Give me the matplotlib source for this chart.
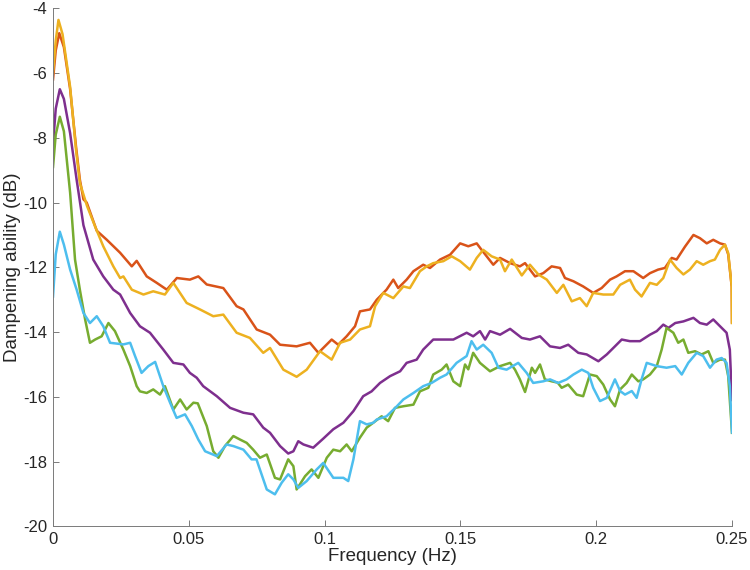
import matplotlib
matplotlib.use("Agg")
import matplotlib.pyplot as plt

plt.rcParams['font.family'] = ['Liberation Sans', 'DejaVu Sans']
plt.rcParams['axes.unicode_minus'] = False

# --- data (frequency in Hz, dampening in dB) ---
red_f = [0.0, 0.001, 0.0023, 0.004, 0.0063, 0.0085, 0.0099, 0.0112, 0.0124, 0.0161,
         0.0198, 0.0247, 0.029, 0.0308, 0.0345, 0.0382, 0.0419, 0.0456, 0.0504, 0.0535,
         0.0566, 0.0627, 0.0676, 0.0701, 0.075, 0.0799, 0.0836, 0.0897, 0.0946, 0.0977,
         0.0995, 0.1026, 0.105, 0.1081, 0.1112, 0.113, 0.1167, 0.1192, 0.1228, 0.1253,
         0.1271, 0.1302, 0.1327, 0.1363, 0.1388, 0.1425, 0.1462, 0.1499, 0.1529, 0.156,
         0.1578, 0.1621, 0.1646, 0.1683, 0.1719, 0.1738, 0.1775, 0.1805, 0.1836, 0.1867,
         0.1885, 0.1916, 0.1952, 0.1989, 0.202, 0.2051, 0.2075, 0.2106, 0.2137, 0.2173,
         0.2198, 0.2228, 0.2253, 0.2278, 0.2296, 0.2327, 0.2358, 0.2382, 0.2407, 0.2431,
         0.2456, 0.2474, 0.2486, 0.2499, 0.25]
red_db = [-6.2, -5.3, -4.77, -5.2, -6.5, -8.3, -9.3, -9.9, -10.0, -10.87,
          -11.15, -11.55, -11.97, -11.8, -12.28, -12.48, -12.69, -12.33, -12.38, -12.28,
          -12.53, -12.64, -13.2, -13.3, -13.92, -14.08, -14.39, -14.44, -14.33, -14.64,
          -14.49, -14.23, -14.39, -14.13, -13.82, -13.36, -13.3, -13.0, -12.69, -12.38,
          -12.64, -12.38, -12.12, -11.92, -12.02, -11.76, -11.61, -11.26, -11.35, -11.26,
          -11.46, -11.92, -11.71, -11.87, -11.97, -11.87, -12.28, -12.18, -11.97, -12.02,
          -12.33, -12.43, -12.59, -12.79, -12.64, -12.38, -12.28, -12.12, -12.12, -12.33,
          -12.18, -12.07, -12.02, -11.71, -11.76, -11.36, -11.0, -11.1, -11.26, -11.15,
          -11.26, -11.3, -11.6, -12.6, -13.7]

yellow_f = [0.0, 0.001, 0.002, 0.0035, 0.0063, 0.0085, 0.0099, 0.0125, 0.0155, 0.0185,
            0.0222, 0.0247, 0.0259, 0.029, 0.0333, 0.0369, 0.0412, 0.0443, 0.0492, 0.0541,
            0.059, 0.0627, 0.0676, 0.0725, 0.0774, 0.0799, 0.0848, 0.0897, 0.0934, 0.0983,
            0.1026, 0.1057, 0.1094, 0.113, 0.1167, 0.1186, 0.1216, 0.1253, 0.129, 0.1314,
            0.1351, 0.1376, 0.14, 0.1437, 0.1468, 0.1499, 0.1535, 0.156, 0.1584, 0.1615,
            0.1646, 0.1664, 0.1689, 0.1726, 0.1756, 0.1787, 0.1818, 0.1855, 0.1879, 0.191,
            0.194, 0.1965, 0.1989, 0.2026, 0.2063, 0.2088, 0.2124, 0.2143, 0.2167, 0.2198,
            0.2223, 0.2247, 0.2272, 0.2296, 0.2321, 0.2345, 0.237, 0.2394, 0.2419, 0.2437,
            0.2456, 0.2474, 0.2486, 0.2499, 0.25]
yellow_db = [-6.0, -5.0, -4.36, -4.8, -6.43, -8.4, -9.4, -10.1, -10.74, -11.35,
             -11.97, -12.33, -12.28, -12.69, -12.84, -12.74, -12.84, -12.48, -13.1, -13.3,
             -13.51, -13.46, -14.02, -14.18, -14.64, -14.49, -15.16, -15.38, -15.16, -14.59,
             -14.85, -14.33, -14.23, -13.92, -13.82, -13.2, -12.79, -12.95, -12.59, -12.64,
             -12.12, -11.97, -11.87, -11.81, -11.66, -11.81, -12.07, -11.71, -11.46, -11.66,
             -11.76, -12.12, -11.76, -12.25, -11.92, -12.22, -12.38, -12.79, -12.54, -13.05,
             -12.95, -13.2, -12.79, -12.84, -12.84, -12.54, -12.38, -12.69, -12.9, -12.48,
             -12.54, -12.33, -11.76, -12.02, -12.22, -12.07, -11.81, -11.92, -11.81, -11.76,
             -11.46, -11.3, -11.56, -12.59, -13.72]

purple_f = [0.0, 0.001, 0.0025, 0.004, 0.0063, 0.0087, 0.0112, 0.0148, 0.0185, 0.0222,
            0.0247, 0.0284, 0.032, 0.0357, 0.0406, 0.0443, 0.048, 0.0504, 0.0529, 0.0553,
            0.0603, 0.0652, 0.0701, 0.0737, 0.0774, 0.0799, 0.0836, 0.0866, 0.0885, 0.0903,
            0.0922, 0.0958, 0.0995, 0.1032, 0.1069, 0.1106, 0.1142, 0.1173, 0.1204, 0.1241,
            0.1278, 0.1302, 0.1339, 0.1363, 0.14, 0.1437, 0.1474, 0.1523, 0.1547, 0.1572,
            0.1591, 0.1609, 0.1646, 0.1683, 0.1726, 0.1756, 0.1793, 0.183, 0.1867, 0.1897,
            0.1934, 0.1965, 0.2008, 0.2039, 0.2069, 0.2094, 0.2124, 0.2161, 0.2198, 0.2223,
            0.2247, 0.2266, 0.2291, 0.2321, 0.2358, 0.2382, 0.2407, 0.2431, 0.2456, 0.248,
            0.2492, 0.25]
purple_db = [-8.2, -7.1, -6.5, -6.8, -7.86, -9.3, -10.7, -11.76, -12.28, -12.69,
             -12.84, -13.41, -13.82, -14.02, -14.54, -14.95, -15.0, -15.26, -15.41, -15.67,
             -15.98, -16.34, -16.49, -16.54, -16.95, -17.11, -17.52, -17.75, -17.68, -17.37,
             -17.47, -17.57, -17.29, -17.0, -16.8, -16.44, -15.98, -15.83, -15.57, -15.36,
             -15.21, -14.95, -14.85, -14.54, -14.23, -14.23, -14.23, -14.02, -14.13, -13.97,
             -14.23, -13.97, -14.08, -13.9, -14.18, -14.23, -14.13, -14.44, -14.49, -14.39,
             -14.64, -14.69, -14.9, -14.69, -14.44, -14.23, -14.28, -14.28, -14.08, -13.97,
             -13.77, -13.87, -13.72, -13.67, -13.56, -13.72, -13.77, -13.61, -13.82, -14.02,
             -14.54, -16.1]

green_f = [0.0, 0.001, 0.0025, 0.004, 0.0063, 0.0081, 0.0099, 0.0118, 0.0136, 0.0155,
           0.0179, 0.0204, 0.0228, 0.0259, 0.0284, 0.0308, 0.032, 0.0345, 0.0369, 0.0394,
           0.0412, 0.0443, 0.0468, 0.0492, 0.0517, 0.0533, 0.0566, 0.059, 0.0609, 0.0633,
           0.0664, 0.0689, 0.0713, 0.0737, 0.0762, 0.0787, 0.0817, 0.0836, 0.0866, 0.0885,
           0.0897, 0.0928, 0.0952, 0.0977, 0.1008, 0.1032, 0.1057, 0.1081, 0.11, 0.113,
           0.1155, 0.1179, 0.121, 0.1234, 0.1259, 0.129, 0.1327, 0.1351, 0.1382, 0.14,
           0.1431, 0.1449, 0.1474, 0.1499, 0.1517, 0.1529, 0.1547, 0.1572, 0.1609, 0.1646,
           0.1683, 0.1701, 0.1719, 0.1738, 0.1763, 0.1775, 0.1793, 0.1811, 0.1836, 0.1858,
           0.1873, 0.1897, 0.1928, 0.1952, 0.1977, 0.2002, 0.2026, 0.2051, 0.2069, 0.2088,
           0.2112, 0.2131, 0.2155, 0.2173, 0.2198, 0.2223, 0.2241, 0.2259, 0.2284, 0.2302,
           0.2321, 0.2339, 0.2364, 0.2388, 0.2413, 0.2431, 0.2456, 0.2474, 0.2486, 0.25]
green_db = [-8.9, -7.9, -7.35, -7.8, -9.7, -11.76, -12.7, -13.6, -14.33, -14.23,
            -14.13, -13.72, -13.97, -14.54, -15.05, -15.67, -15.83, -15.88, -15.77, -15.93,
            -15.67, -16.39, -16.08, -16.39, -16.18, -16.2, -16.9, -17.68, -17.88, -17.52,
            -17.21, -17.32, -17.42, -17.63, -17.88, -17.78, -18.5, -18.55, -17.93, -18.14,
            -18.86, -18.45, -18.24, -18.5, -17.88, -17.63, -17.68, -17.47, -17.68, -17.26,
            -16.95, -16.8, -16.6, -16.75, -16.34, -16.29, -16.24, -15.83, -15.72, -15.31,
            -15.16, -15.0, -15.52, -15.67, -15.0, -15.15, -14.64, -14.95, -15.21, -15.05,
            -14.95, -15.16, -15.46, -15.85, -15.1, -15.26, -15.0, -15.46, -15.52, -15.56,
            -15.72, -15.62, -15.93, -15.98, -15.31, -15.36, -15.62, -16.08, -16.29, -15.77,
            -15.57, -15.31, -15.52, -15.46, -15.31, -15.05, -14.54, -13.87, -14.02, -14.33,
            -14.23, -14.64, -14.59, -14.69, -14.59, -14.95, -14.85, -14.85, -15.36, -17.11]

blue_f = [0.0, 0.001, 0.0025, 0.004, 0.0063, 0.0087, 0.0112, 0.0136, 0.0161, 0.0185,
          0.021, 0.0259, 0.0284, 0.0302, 0.0326, 0.0351, 0.0376, 0.0406, 0.0431, 0.0455,
          0.0486, 0.0511, 0.0535, 0.056, 0.0603, 0.0639, 0.0664, 0.0701, 0.0731, 0.0749,
          0.0787, 0.0817, 0.0842, 0.0866, 0.0885, 0.0903, 0.0934, 0.0971, 0.0995, 0.1032,
          0.1069, 0.1087, 0.1106, 0.113, 0.1155, 0.1179, 0.1192, 0.1228, 0.1265, 0.129,
          0.1327, 0.1363, 0.1394, 0.1425, 0.1449, 0.1486, 0.1523, 0.1541, 0.156, 0.1584,
          0.1615, 0.164, 0.167, 0.1713, 0.1744, 0.1768, 0.1805, 0.183, 0.186, 0.1891,
          0.1916, 0.1947, 0.1971, 0.1989, 0.2014, 0.2039, 0.2069, 0.2088, 0.2106, 0.2131,
          0.2149, 0.2167, 0.2186, 0.2223, 0.2259, 0.2291, 0.2315, 0.2339, 0.237, 0.2394,
          0.2419, 0.2443, 0.2462, 0.248, 0.2492, 0.25]
blue_db = [-12.9, -11.6, -10.9, -11.3, -12.07, -12.69, -13.41, -13.72, -13.51, -13.82,
           -14.33, -14.38, -14.33, -14.74, -15.26, -15.05, -14.92, -15.67, -16.18, -16.65,
           -16.54, -16.9, -17.32, -17.68, -17.83, -17.47, -17.52, -17.63, -17.93, -17.93,
           -18.86, -19.01, -18.65, -18.39, -18.55, -18.81, -18.6, -18.24, -18.04, -18.5,
           -18.5, -18.6, -17.93, -16.75, -16.85, -16.8, -16.7, -16.6, -16.3, -16.08,
           -15.88, -15.67, -15.57, -15.41, -15.31, -14.95, -14.74, -14.28, -14.54, -14.39,
           -14.64, -15.1, -15.16, -14.95, -15.26, -15.57, -15.52, -15.46, -15.57, -15.46,
           -15.31, -15.16, -15.26, -15.72, -16.13, -16.03, -15.46, -15.82, -15.93, -15.82,
           -16.03, -15.46, -14.95, -15.05, -15.1, -15.05, -15.31, -14.95, -14.64, -14.74,
           -15.1, -14.85, -14.8, -14.95, -15.67, -17.1]

x_ticks = [0, 0.05, 0.1, 0.15, 0.2, 0.25]
x_tick_labels = ['0', '0.05', '0.1', '0.15', '0.2', '0.25']
y_ticks = [-20, -18, -16, -14, -12, -10, -8, -6, -4]
y_tick_labels = ['-20', '-18', '-16', '-14', '-12', '-10', '-8', '-6', '-4']

series = [
    (red_f, red_db, '#D95319'),
    (yellow_f, yellow_db, '#EDB120'),
    (purple_f, purple_db, '#7E2F8E'),
    (green_f, green_db, '#77AC30'),
    (blue_f, blue_db, '#4DBEEE'),
]

fig = plt.figure(figsize=(7.5, 5.7), dpi=100)
ax = fig.add_axes([0.0707, 0.0765, 0.9053, 0.909])

for f, db, c in series:
    ax.plot(f, db, color=c, linewidth=1.8, solid_joinstyle='round')

ax.set_xlim(0, 0.25)
ax.set_ylim(-20, -4)
ax.set_xticks(x_ticks)
ax.set_xticklabels(x_tick_labels)
ax.set_yticks(y_ticks)
ax.set_yticklabels(y_tick_labels)

axis_gray = '#262626'
for side in ['top', 'right']:
    ax.spines[side].set_visible(False)
for side in ['left', 'bottom']:
    ax.spines[side].set_color('#7a7a7a')
    ax.spines[side].set_linewidth(0.7)
ax.tick_params(direction='in', length=4, width=0.7, color='#7a7a7a',
               labelcolor=axis_gray, labelsize=12, pad=4)

ax.set_xlabel('Frequency (Hz)', fontsize=13.5, color=axis_gray, labelpad=1)
ax.set_ylabel('Dampening ability (dB)', fontsize=13.5, color=axis_gray, labelpad=2)

fig.savefig('out.png', dpi=100)
